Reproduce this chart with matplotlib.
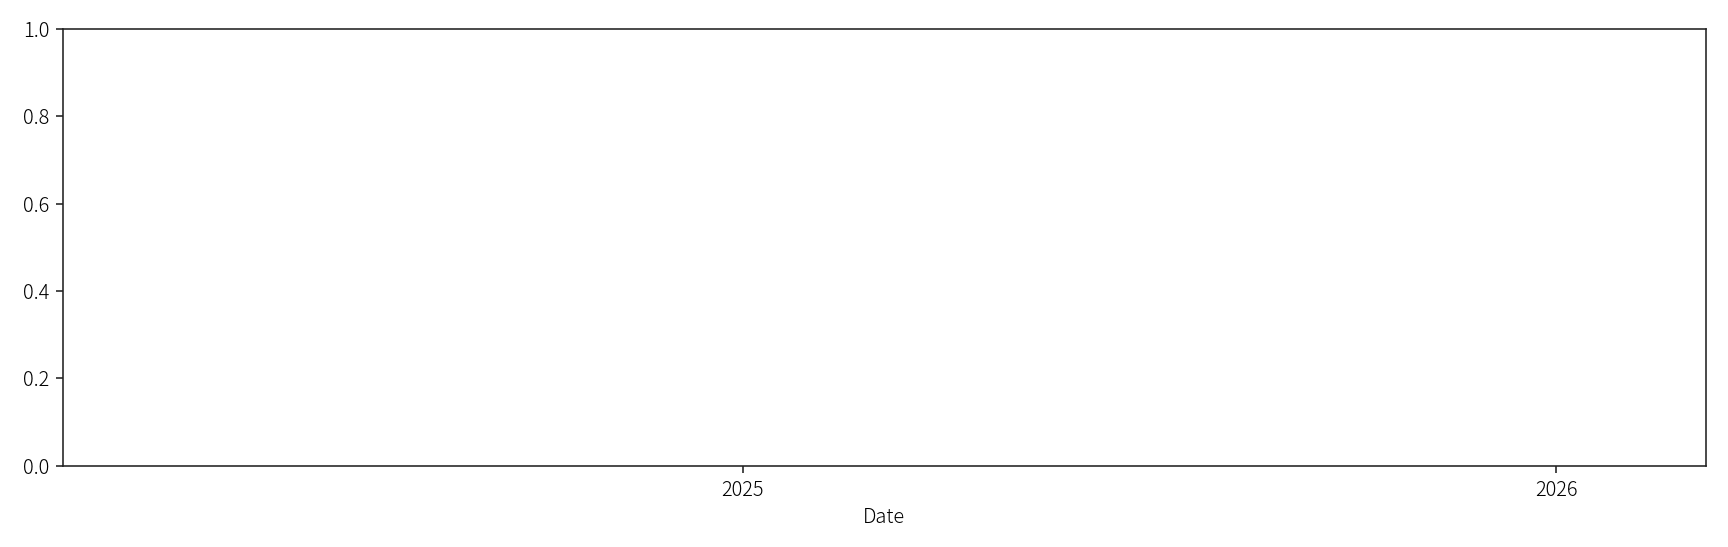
import matplotlib
matplotlib.use("Agg")
import matplotlib.pyplot as plt
import matplotlib.dates as mdates
import numpy as np
import datetime as dt

plt.rcParams['font.family'] = ['Noto Sans CJK JP', 'DejaVu Sans']
plt.rcParams['font.weight'] = 'light'
plt.rcParams['axes.labelweight'] = 'light'

# Data (the reference chart shows no plotted series)
dates = []
values = []
x_range = [dt.datetime(2024, 3, 2), dt.datetime(2026, 3, 9)]
y_range = [0.0, 1.0]
x_label = "Date"

fig = plt.figure(figsize=(12, 3.8), dpi=144)
ax = fig.add_axes([0.0365, 0.1487, 0.9506, 0.7983])
ax.plot(dates, values)
ax.set_xlim(x_range[0], x_range[1])
ax.set_ylim(*y_range)
ax.xaxis.set_major_locator(mdates.YearLocator())
ax.xaxis.set_major_formatter(mdates.DateFormatter("%Y"))
ax.set_xlabel(x_label, color='black', labelpad=3.2)
for s in ax.spines.values():
    s.set_color('#222222')
ax.tick_params(colors='#222222', labelcolor='black')
fig.savefig("out.png", dpi=144)
